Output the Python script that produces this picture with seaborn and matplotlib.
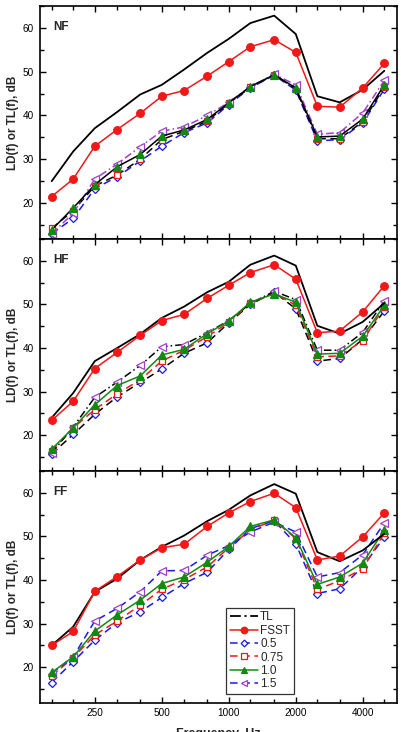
import matplotlib
matplotlib.use("Agg")
import matplotlib.pyplot as plt
from matplotlib.lines import Line2D
from matplotlib.ticker import FixedLocator, NullFormatter
import seaborn as sns

# 1/3-octave band centre frequencies, Hz
freqs = [160, 200, 250, 315, 400, 500, 630, 800, 1000, 1250, 1600, 2000, 2500, 3150, 4000, 5000]
major_ticks = [250, 500, 1000, 2000, 4000]
series_names = ["TL", "FSST", "0.5", "0.75", "1.0", "1.5"]

# NF
nf_tl = [25.0, 31.8, 37.1, 40.8, 44.8, 47.0, 50.5, 54.3, 57.5, 61.1, 62.8, 58.6, 44.4, 43.0, 45.9, 50.2]
nf_fsst = [21.5, 25.5, 33.0, 36.8, 40.5, 44.4, 45.7, 49.0, 52.3, 55.7, 57.3, 54.4, 42.1, 41.9, 46.3, 51.9]
nf_05 = [13.0, 16.5, 23.3, 26.0, 29.6, 33.0, 36.1, 38.3, 42.5, 46.3, 49.2, 45.8, 34.2, 34.5, 38.3, 46.0]
nf_075 = [14.2, 18.3, 23.9, 26.4, 30.0, 34.5, 36.4, 38.7, 42.8, 46.4, 49.3, 46.0, 34.7, 34.7, 38.6, 46.5]
nf_10 = [13.9, 18.9, 24.2, 28.3, 31.1, 35.3, 36.7, 39.1, 42.9, 46.6, 49.3, 46.3, 35.1, 35.3, 39.2, 47.0]
nf_15 = [13.0, 17.7, 25.5, 28.9, 32.9, 36.4, 37.4, 40.0, 43.0, 46.6, 49.4, 47.0, 35.7, 36.1, 40.6, 48.0]

# HF
hf_tl = [24.0, 29.7, 37.0, 40.0, 43.2, 46.9, 49.5, 52.8, 55.2, 59.1, 61.2, 58.9, 45.1, 43.3, 46.0, 50.3]
hf_fsst = [23.4, 27.8, 35.3, 39.0, 42.9, 46.3, 47.7, 51.4, 54.4, 57.3, 59.1, 55.8, 43.5, 43.9, 48.3, 54.3]
hf_05 = [15.7, 20.2, 24.8, 28.8, 32.1, 35.2, 38.8, 41.2, 45.8, 50.0, 52.8, 49.0, 37.0, 37.6, 42.0, 48.5]
hf_075 = [16.4, 21.7, 25.9, 29.5, 32.7, 37.0, 39.5, 42.6, 45.9, 50.3, 52.6, 49.8, 38.0, 38.2, 41.7, 49.5]
hf_10 = [16.8, 21.7, 27.0, 31.4, 33.6, 38.4, 39.7, 43.3, 46.2, 50.5, 52.4, 50.5, 38.6, 38.8, 42.7, 49.8]
hf_15 = [15.9, 21.9, 28.7, 32.2, 36.0, 40.3, 40.8, 43.5, 46.3, 50.2, 53.0, 51.1, 39.5, 39.5, 43.6, 50.8]

# FF
ff_tl = [25.0, 29.3, 37.3, 40.3, 44.6, 47.6, 50.2, 53.5, 56.1, 59.4, 62.0, 59.8, 46.4, 44.3, 46.8, 50.6]
ff_fsst = [25.0, 28.2, 37.4, 40.8, 44.6, 47.4, 48.2, 52.3, 55.4, 58.0, 59.9, 56.6, 44.6, 45.5, 49.9, 55.4]
ff_05 = [16.5, 21.3, 26.2, 30.2, 32.7, 36.0, 39.2, 41.8, 47.0, 51.8, 53.6, 48.3, 36.9, 38.0, 43.0, 49.9]
ff_075 = [18.0, 22.2, 27.4, 30.6, 34.2, 37.9, 40.1, 43.0, 47.4, 51.5, 53.7, 49.5, 37.9, 39.8, 42.6, 50.8]
ff_10 = [18.8, 22.4, 28.3, 32.0, 35.4, 39.2, 40.7, 44.1, 47.7, 52.3, 53.8, 49.7, 39.0, 40.7, 43.9, 51.5]
ff_15 = [18.5, 22.4, 30.6, 33.5, 37.3, 42.1, 42.2, 45.7, 47.9, 51.0, 53.3, 51.0, 40.7, 41.7, 45.8, 53.1]

panels = [
    ("NF", [nf_tl, nf_fsst, nf_05, nf_075, nf_10, nf_15]),
    ("HF", [hf_tl, hf_fsst, hf_05, hf_075, hf_10, hf_15]),
    ("FF", [ff_tl, ff_fsst, ff_05, ff_075, ff_10, ff_15]),
]

RED = "#f01818"
BLUE = "#1a1ae6"
GREEN = "#118a11"
PURPLE = "#a040c8"

# marker styles per series: (marker, marker colour, filled)
markers = {
    "TL": (None, "black", True),
    "FSST": ("o", RED, True),
    "0.5": ("D", BLUE, False),
    "0.75": ("s", RED, False),
    "1.0": ("^", GREEN, True),
    "1.5": ("<", PURPLE, False),
}
msizes = {"FSST": 5.5, "0.5": 4.2, "0.75": 4.8, "1.0": 5.5, "1.5": 5.5}
dash = (5, 3)
# line colour / dash per panel for each series
line_styles = {
    "NF": {"TL": ("black", None), "FSST": (RED, None), "0.5": (BLUE, dash),
           "0.75": ("black", dash), "1.0": ("black", None), "1.5": (PURPLE, (5, 2, 1, 2))},
    "HF": {"TL": ("black", None), "FSST": (RED, None), "0.5": ("black", dash),
           "0.75": (RED, dash), "1.0": (GREEN, None), "1.5": ("black", (5, 2, 1, 2))},
    "FF": {"TL": ("black", None), "FSST": (RED, None), "0.5": (BLUE, dash),
           "0.75": (RED, dash), "1.0": (GREEN, None), "1.5": (BLUE, dash)},
}

sns.set_style("ticks")
plt.rcParams["font.family"] = ["Liberation Sans", "DejaVu Sans"]

W, H = 402, 732
fig = plt.figure(figsize=(W / 100, H / 100), dpi=100)
left, right = 40, 397
bounds = [(6, 239), (239, 471), (471, 703)]

axes = []
for (ptop, pbot), (tag, data) in zip(bounds, panels):
    ax = fig.add_axes([left / W, 1 - pbot / H, (right - left) / W, (pbot - ptop) / H])
    axes.append(ax)
    order = ["0.5", "0.75", "1.5", "1.0", "TL", "FSST"]
    for name in order:
        vals = data[series_names.index(name)]
        lc, ds = line_styles[tag][name]
        mk, mcol, filled = markers[name]
        kw = dict(color=lc, lw=1.1 if name != "TL" else 1.3)
        if mk:
            kw.update(marker=mk, markersize=msizes[name], mec=mcol,
                      markerfacecolor=mcol if filled else "white", mew=0.9)
        sns.lineplot(x=freqs, y=vals, ax=ax, **kw)
        if ds:
            ax.lines[-1].set_dashes(ds)
    ax.set_xscale("log")
    ax.set_xlim(141.8, 5700)
    ax.set_ylim(11.8, 65)
    ax.xaxis.set_major_locator(FixedLocator(major_ticks))
    ax.xaxis.set_minor_locator(FixedLocator([f for f in freqs if f not in major_ticks]))
    ax.xaxis.set_minor_formatter(NullFormatter())
    ax.set_xticklabels([str(t) for t in major_ticks])
    ax.set_yticks([20, 30, 40, 50, 60])
    ax.set_yticks([15, 25, 35, 45, 55, 65], minor=True)
    ax.tick_params(which="both", direction="in", top=True, right=True, width=1.0,
                   labelsize=7.2, colors="black")
    ax.tick_params(which="major", length=4.5)
    ax.tick_params(which="minor", length=2.8)
    ax.tick_params(axis="y", pad=4.5)
    ax.tick_params(axis="x", pad=3.5)
    for sp in ax.spines.values():
        sp.set_visible(True)
        sp.set_linewidth(1.2)
        sp.set_color("black")
    ax.set_ylabel("LD(f) or TL(f), dB", fontsize=8.5, fontweight="bold")
    ax.yaxis.set_label_coords(-0.058, 0.5)
    ax.set_xlabel("")
    ax.text(0.036, 0.91, tag, transform=ax.transAxes, fontsize=8.5,
            fontweight="bold", va="center", ha="left")
    if tag != "FF":
        ax.tick_params(axis="x", which="both", labelbottom=False)

axes[-1].set_xlabel("Frequency, Hz", fontsize=9, fontweight="bold", labelpad=7)

handles = []
for name in series_names:
    mk, mcol, filled = markers[name]
    lc, ds = line_styles["FF"][name]
    if name == "TL":
        h = Line2D([], [], color="black", lw=1.3, dashes=(6, 2, 1.2, 2))
    else:
        h = Line2D([], [], color=lc, lw=1.1, marker=mk, markersize=msizes[name] - 0.8,
                   mec=mcol, mfc=mcol if filled else "white", mew=0.9)
        if ds:
            h.set_dashes(ds)
    handles.append(h)

leg = axes[-1].legend(handles, series_names, loc="lower left",
                      bbox_to_anchor=(0.521, 0.039), borderaxespad=0, fontsize=8.5,
                      handlelength=2.4, handletextpad=0.2, labelspacing=0.12,
                      borderpad=0.3, frameon=True, fancybox=False)
leg.get_frame().set_edgecolor("black")
leg.get_frame().set_linewidth(0.9)

fig.savefig("out.png", dpi=100)
